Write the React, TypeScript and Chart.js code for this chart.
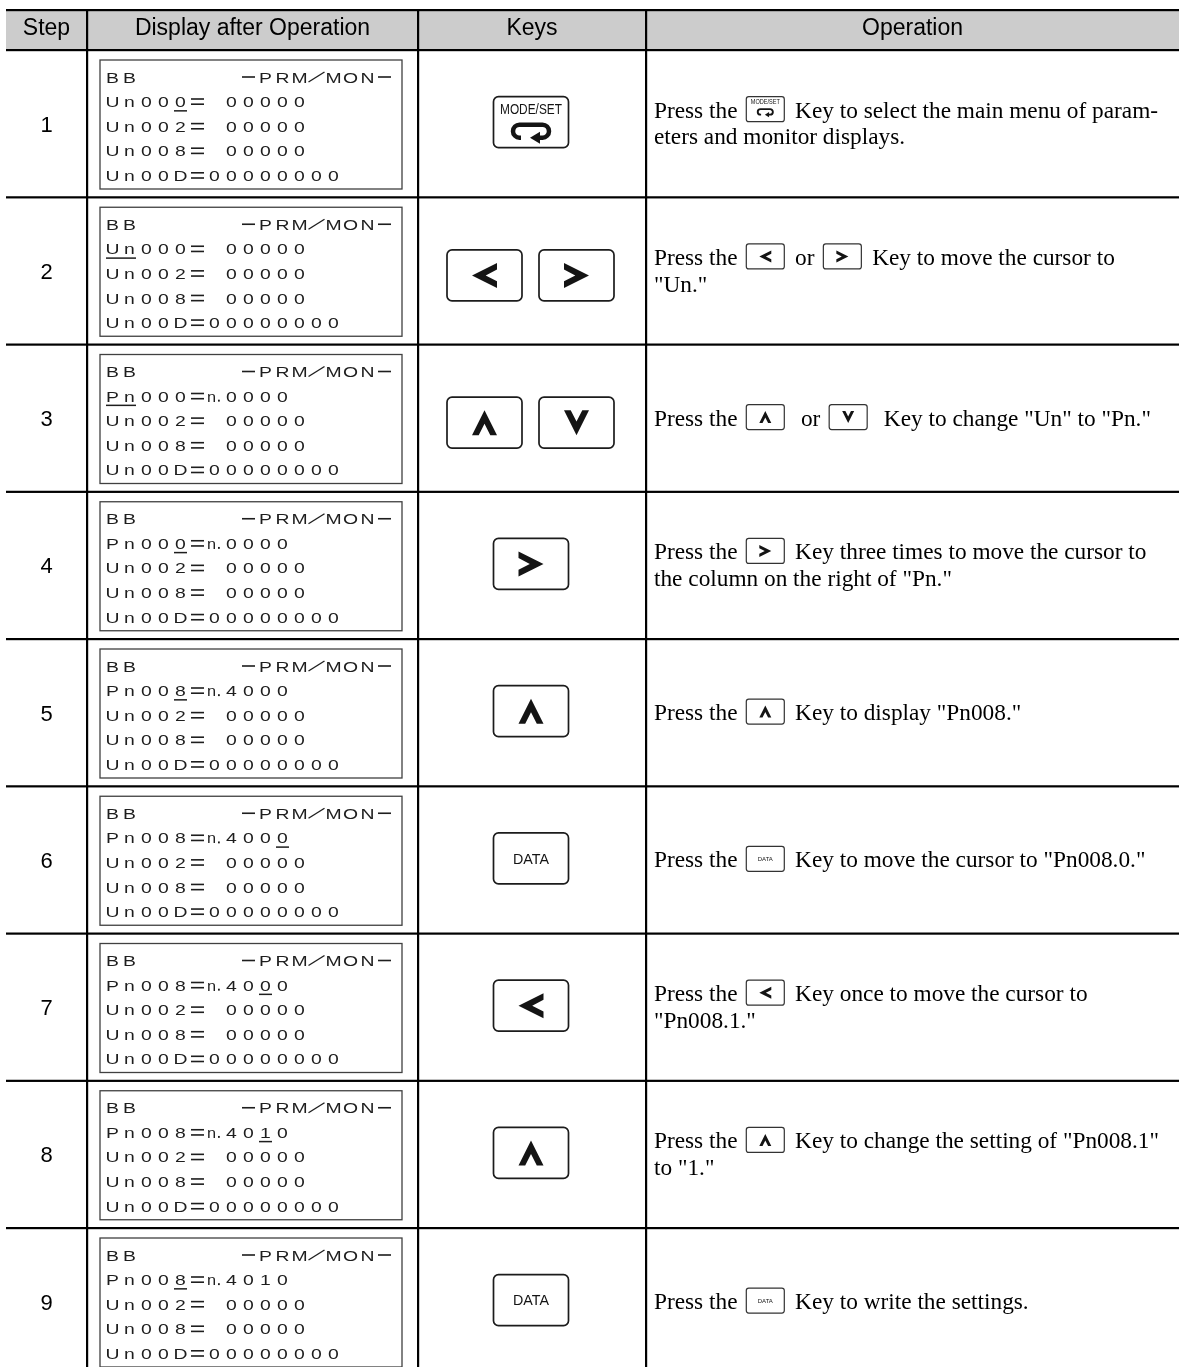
import React, { useEffect, useRef } from "react";
import { Chart, registerables } from "chart.js";

Chart.register(...registerables);

// ---------------- data ----------------
const HEADERS = ["Step", "Display after Operation", "Keys", "Operation"];
const STEPS = [1, 2, 3, 4, 5, 6, 7, 8, 9];
const LCD_TITLE = "BB      -PRM/MON-";
const LCD_EDIT_LINE = [
  "Un000= 00000",
  "Un000= 00000",
  "Pn000=n.0000",
  "Pn000=n.0000",
  "Pn008=n.4000",
  "Pn008=n.4000",
  "Pn008=n.4000",
  "Pn008=n.4010",
  "Pn008=n.4010",
];
// cursor (underlined) cell indices of the edit line
const LCD_CURSOR = [[4], [0, 1], [0, 1], [4], [4], [10], [9], [9], [4]];
const LCD_MONITOR_LINES = ["Un002= 00000", "Un008= 00000", "Un00D=00000000"];
const KEYS = [
  ["modeset"],
  ["left", "right"],
  ["up", "down"],
  ["right"],
  ["up"],
  ["data"],
  ["left"],
  ["up"],
  ["data"],
];
const OPERATION = [
  ["Press the {modeset} Key to select the main menu of param-", "eters and monitor displays."],
  ["Press the {left} or {right} Key to move the cursor to", "\"Un.\""],
  ["Press the {up}  or {down}  Key to change \"Un\" to \"Pn.\""],
  ["Press the {right} Key three times to move the cursor to", "the column on the right of \"Pn.\""],
  ["Press the {up} Key to display \"Pn008.\""],
  ["Press the {data} Key to move the cursor to \"Pn008.0.\""],
  ["Press the {left} Key once to move the cursor to", "\"Pn008.1.\""],
  ["Press the {up} Key to change the setting of \"Pn008.1\"", "to \"1.\""],
  ["Press the {data} Key to write the settings."],
];

// ---------------- layout / style ----------------
const W = 1179;
const H = 1367;
const COL_EDGES = [6, 87, 418, 646, 1179];
const ROW_PX = 147.25;
const TABLE_TOP = 10;
const HEADER_PX = 40;
const Y_MIN = -(TABLE_TOP + HEADER_PX) / ROW_PX;
const Y_MAX = (H - TABLE_TOP - HEADER_PX) / ROW_PX;
const HEADER_TOP = -HEADER_PX / ROW_PX;
const SANS = '"Liberation Sans", Arial, Helvetica, sans-serif';
const SERIF = '"Liberation Serif", "Times New Roman", serif';

function roundRectPath(ctx: CanvasRenderingContext2D, x: number, y: number, w: number, h: number, r: number) {
  ctx.beginPath();
  ctx.moveTo(x + r, y);
  ctx.lineTo(x + w - r, y);
  ctx.arcTo(x + w, y, x + w, y + r, r);
  ctx.lineTo(x + w, y + h - r);
  ctx.arcTo(x + w, y + h, x + w - r, y + h, r);
  ctx.lineTo(x + r, y + h);
  ctx.arcTo(x, y + h, x, y + h - r, r);
  ctx.lineTo(x, y + r);
  ctx.arcTo(x, y, x + r, y, r);
  ctx.closePath();
}

function drawChevron(ctx: CanvasRenderingContext2D, dir: string, cx: number, cy: number, s: number) {
  const base: [number, number][] = [
    [-12.5, 0],
    [12.5, -12.5],
    [12.5, -5.8],
    [1.2, 0],
    [12.5, 5.8],
    [12.5, 12.5],
  ];
  const tr = (p: [number, number]): [number, number] => {
    const [x, y] = p;
    if (dir === "left") return [x, y];
    if (dir === "right") return [-x, y];
    if (dir === "up") return [y, x];
    return [y, -x];
  };
  ctx.beginPath();
  base.forEach((p, i) => {
    const [x, y] = tr(p);
    if (i === 0) ctx.moveTo(cx + x * s, cy + y * s);
    else ctx.lineTo(cx + x * s, cy + y * s);
  });
  ctx.closePath();
  ctx.fill();
}

function drawReturnArrow(ctx: CanvasRenderingContext2D, cx: number, top: number, s: number) {
  const L = cx - 18 * s;
  const R = cx + 18 * s;
  const T = top;
  const B = top + 13 * s;
  const r = 6.5 * s;
  ctx.lineWidth = 4.5 * s;
  ctx.lineCap = "butt";
  ctx.beginPath();
  ctx.moveTo(cx - 10 * s, B);
  ctx.lineTo(L + r, B);
  ctx.arc(L + r, T + r, r, Math.PI / 2, (3 * Math.PI) / 2);
  ctx.lineTo(R - r, T);
  ctx.arc(R - r, T + r, r, -Math.PI / 2, Math.PI / 2);
  ctx.lineTo(cx + 8 * s, B);
  ctx.stroke();
  ctx.beginPath();
  ctx.moveTo(cx - 1 * s, B);
  ctx.lineTo(cx + 9 * s, B - 6 * s);
  ctx.lineTo(cx + 9 * s, B + 6 * s);
  ctx.closePath();
  ctx.fill();
}

function drawKey(ctx: CanvasRenderingContext2D, kind: string, cx: number, cy: number, w: number, h: number, small: boolean) {
  ctx.save();
  ctx.lineWidth = small ? 1.2 : 1.7;
  ctx.strokeStyle = small ? "#333" : "#1c1c1c";
  ctx.fillStyle = "#fff";
  roundRectPath(ctx, cx - w / 2, cy - h / 2, w, h, small ? 2.5 : 5);
  ctx.fill();
  ctx.stroke();
  ctx.fillStyle = "#141414";
  ctx.strokeStyle = "#141414";
  const s = small ? 0.48 : 1;
  if (kind === "left" || kind === "right" || kind === "up" || kind === "down") {
    drawChevron(ctx, kind, cx, cy, s);
  } else if (kind === "data") {
    ctx.font = `${small ? 6 : 15}px ${SANS}`;
    ctx.textAlign = "center";
    ctx.textBaseline = "middle";
    ctx.fillText("DATA", cx, cy + (small ? 0.5 : 1), small ? 17 : 36);
  } else if (kind === "modeset") {
    const top = cy - h / 2;
    ctx.font = `${small ? 6.5 : 14}px ${SANS}`;
    ctx.textAlign = "center";
    ctx.textBaseline = "alphabetic";
    ctx.fillText("MODE/SET", cx, top + (small ? 7.5 : 17), small ? 29 : 62);
    drawReturnArrow(ctx, cx, top + (small ? 12.5 : 28), small ? 0.42 : 1);
  }
  ctx.restore();
}

function splitCells(s: string): string[] {
  const out: string[] = [];
  for (let i = 0; i < s.length; i++) {
    if (s[i] === "n" && s[i + 1] === ".") {
      out.push("n.");
      i++;
    } else out.push(s[i]);
  }
  return out;
}

function drawLcdGlyph(ctx: CanvasRenderingContext2D, c: string, cx: number, cy: number) {
  if (c === " ") return;
  if (c === "=") {
    ctx.fillRect(cx - 6.5, cy - 3.4, 13, 1.6);
    ctx.fillRect(cx - 6.5, cy + 1.8, 13, 1.6);
    return;
  }
  if (c === "-") {
    ctx.fillRect(cx - 6.5, cy - 0.8, 13, 1.6);
    return;
  }
  if (c === "/") {
    ctx.lineWidth = 1.4;
    ctx.beginPath();
    ctx.moveTo(cx - 8, cy + 5);
    ctx.lineTo(cx + 8, cy - 5);
    ctx.stroke();
    return;
  }
  if (c === "n.") {
    ctx.save();
    ctx.translate(cx - 3, cy + 5.5);
    ctx.scale(1.05, 1);
    ctx.fillText("n", 0, 0);
    ctx.restore();
    ctx.fillRect(cx + 3.5, cy + 3.6, 1.8, 1.9);
    return;
  }
  ctx.save();
  ctx.translate(cx, cy + 5.5);
  ctx.scale(1.25, 1);
  ctx.fillText(c, 0, 0);
  ctx.restore();
}

function drawLcd(ctx: CanvasRenderingContext2D, left: number, top: number, lines: string[], cursor: number[]) {
  ctx.save();
  ctx.strokeStyle = "#404040";
  ctx.lineWidth = 1.3;
  ctx.strokeRect(left, top, 302, 129);
  ctx.fillStyle = "#1e1e1e";
  ctx.strokeStyle = "#1e1e1e";
  ctx.font = `15.5px ${SANS}`;
  ctx.textAlign = "center";
  ctx.textBaseline = "alphabetic";
  lines.forEach((ln, li) => {
    const cells = splitCells(ln);
    const cy = top + 17 + li * 24.6;
    cells.forEach((c, ci) => drawLcdGlyph(ctx, c, left + 12.5 + ci * 17, cy));
    if (li === 1 && cursor.length) {
      const mn = Math.min(...cursor);
      const mx = Math.max(...cursor);
      ctx.fillRect(left + 7 + mn * 17 - 1, cy + 8.5, (mx - mn) * 17 + 13, 1.5);
    }
  });
  ctx.restore();
}

function drawRichLine(ctx: CanvasRenderingContext2D, line: string, x0: number, baseline: number) {
  const parts = line.split(/(\{[a-z]+\})/);
  let x = x0;
  for (const p of parts) {
    if (!p) continue;
    const m = p.match(/^\{([a-z]+)\}$/);
    if (m) {
      x += 3;
      drawKey(ctx, m[1], x + 19, baseline - 8.5, 38, 25, true);
      x += 38 + 5;
    } else {
      ctx.font = `23.3px ${SERIF}`;
      ctx.textAlign = "left";
      ctx.textBaseline = "alphabetic";
      ctx.fillStyle = "#000";
      ctx.fillText(p, x, baseline);
      x += ctx.measureText(p).width;
    }
  }
}

const tablePlugin = {
  id: "stepTable",
  afterDatasetsDraw(chart: any) {
    const ctx: CanvasRenderingContext2D = chart.ctx;
    const xs = chart.scales.x;
    const ys = chart.scales.y;
    const X = (v: number) => xs.getPixelForValue(v);
    const Y = (v: number) => ys.getPixelForValue(v);
    ctx.save();
    const xl = X(COL_EDGES[0]);
    const xr = X(COL_EDGES[4]);
    const hTop = Y(HEADER_TOP);
    const hBot = Y(0);

    // header
    ctx.fillStyle = "#cccccc";
    ctx.fillRect(xl, hTop, xr - xl, hBot - hTop);
    ctx.fillStyle = "#000";
    ctx.font = `23px ${SANS}`;
    ctx.textAlign = "center";
    ctx.textBaseline = "alphabetic";
    HEADERS.forEach((h, i) => {
      ctx.fillText(h, (X(COL_EDGES[i]) + X(COL_EDGES[i + 1])) / 2, hTop + 24.5);
    });

    const meta = chart.getDatasetMeta(0);
    STEPS.forEach((s, i) => {
      const top = Y(i);
      const bot = Y(i + 1);
      const rc = (top + bot) / 2;
      const pt = meta.data[i];
      // step number
      ctx.fillStyle = "#000";
      ctx.font = `22px ${SANS}`;
      ctx.textAlign = "center";
      ctx.textBaseline = "alphabetic";
      ctx.fillText(String(s), pt.x, pt.y + 8);

      // LCD display
      drawLcd(ctx, X(COL_EDGES[1]) + 13, top + 10, [LCD_TITLE, LCD_EDIT_LINE[i], ...LCD_MONITOR_LINES], LCD_CURSOR[i]);

      // keys
      const kcx = (X(COL_EDGES[2]) + X(COL_EDGES[3])) / 2;
      const kinds = KEYS[i];
      if (kinds.length === 1) {
        drawKey(ctx, kinds[0], kcx - 1, rc - 1.5, 75, 51, false);
      } else {
        drawKey(ctx, kinds[0], kcx - 47.5, rc + 4.5, 75, 51, false);
        drawKey(ctx, kinds[1], kcx + 44.5, rc + 4.5, 75, 51, false);
      }

      // operation text
      const lines = OPERATION[i];
      lines.forEach((ln, k) => {
        const b = rc + 7.4 + (k - (lines.length - 1) / 2) * 26.7;
        drawRichLine(ctx, ln, X(COL_EDGES[3]) + 8, b);
      });
    });

    // grid lines
    ctx.fillStyle = "#000";
    const hl = [HEADER_TOP, 0, 1, 2, 3, 4, 5, 6, 7, 8];
    hl.forEach((v) => ctx.fillRect(xl, Y(v) - 1, xr - xl, 2.2));
    for (let c = 1; c <= 3; c++) {
      ctx.fillRect(X(COL_EDGES[c]) - 1, hTop - 1, 2.2, H);
    }
    ctx.restore();
  },
};

export default function App() {
  const ref = useRef<HTMLCanvasElement>(null);
  useEffect(() => {
    document.body.style.margin = "0";
    const canvas = ref.current;
    if (!canvas) return;
    const stepX = (COL_EDGES[0] + COL_EDGES[1]) / 2;
    const chart = new Chart(canvas, {
      type: "scatter",
      data: {
        datasets: [
          {
            label: "Step",
            data: STEPS.map((_, i) => ({ x: stepX, y: i + 0.5 })),
            pointRadius: 0,
            pointHoverRadius: 0,
          },
        ],
      },
      options: {
        animation: false,
        responsive: false,
        maintainAspectRatio: false,
        events: [],
        layout: { padding: 0 },
        plugins: { legend: { display: false }, tooltip: { enabled: false } },
        scales: {
          x: { type: "linear", min: 0, max: W, display: false },
          y: { type: "linear", min: Y_MIN, max: Y_MAX, reverse: true, display: false },
        },
      },
      plugins: [tablePlugin as any],
    });
    return () => chart.destroy();
  }, []);
  return (
    <canvas
      ref={ref}
      width={W}
      height={H}
      style={{ position: "absolute", left: 0, top: 0, display: "block", width: W, height: H }}
    />
  );
}
